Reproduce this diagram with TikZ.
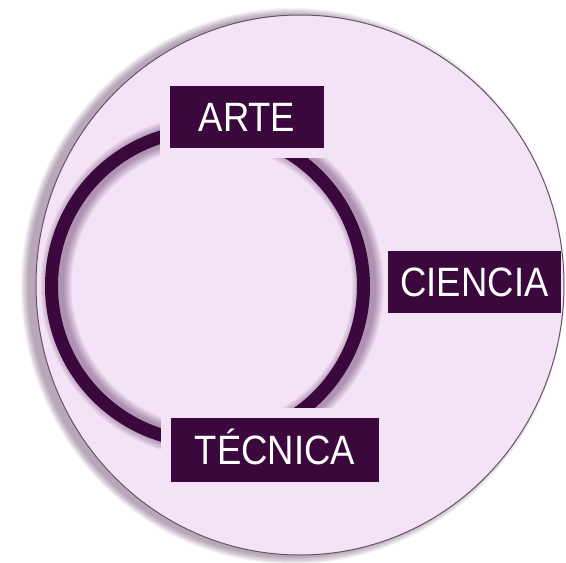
\documentclass[tikz,border=0pt]{standalone}
\usepackage{fontspec}
\setmainfont{Liberation Sans}
\newfontfamily\rotulo[FakeStretch=0.89]{Liberation Sans}
\definecolor{lila}{RGB}{244,227,246}
\definecolor{uva}{RGB}{58,8,60}
\definecolor{borde}{RGB}{105,80,108}

\begin{document}
\begin{tikzpicture}[x=1pt, y=-1pt,
  etiqueta/.style={fill=uva, text=white, inner sep=0pt, font=\rotulo\fontsize{41}{44}\selectfont, text height=29.5pt, text depth=0pt},
  hueco/.style={draw=lila, line width=10pt}]
\useasboundingbox (0,0) rectangle (566,563);
\fill[white] (0,0) rectangle (566,563);

% Disc with its shadow to the left
\foreach \k in {1,...,8} {
    \pgfmathsetmacro\rx{264+\k}
    \pgfmathsetmacro\ry{270+\k}
    \fill[uva, opacity=0.05] (293,286) ellipse [x radius=\rx pt, y radius=\ry pt];
}
\fill[lila] (300,285) ellipse [x radius=264pt, y radius=270pt];
\draw[borde, line width=1pt] (300,285) ellipse [x radius=264pt, y radius=270pt];

% Ring
\foreach \k in {1,...,6} {
    \pgfmathsetmacro\lw{13+3*\k}
    \draw[uva, opacity=0.07, line width=\lw pt] (212,286) circle [radius=156pt];
}
\draw[uva, line width=13pt] (207.5,286) circle [radius=156pt];

% Labels
\node[etiqueta, hueco, minimum width=164pt, minimum height=72pt] (arte) at (247,116.5) {ARTE};
\node[etiqueta, hueco, minimum width=218pt, minimum height=74pt] (tecnica) at (275,450) {TÉCNICA};
\node[etiqueta, minimum width=173pt, minimum height=62pt] (ciencia) at (474.5,281.5) {CIENCIA};

\end{tikzpicture}
\end{document}
